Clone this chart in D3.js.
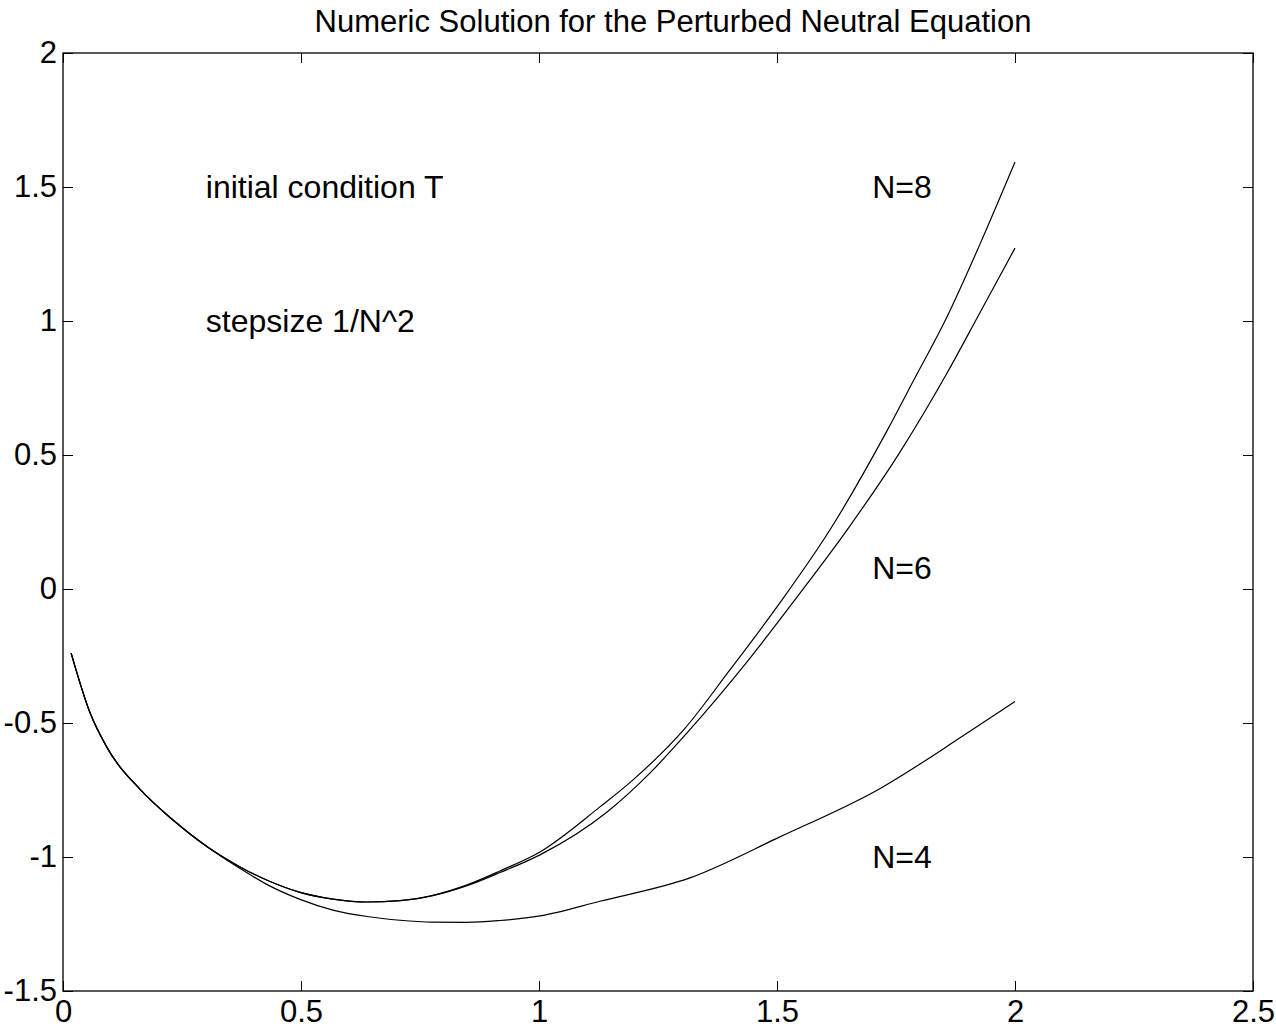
<!DOCTYPE html>
<html>
<head>
<meta charset="utf-8">
<script src="https://cdn.jsdelivr.net/npm/d3@7"></script>
<style>
  html, body { margin: 0; padding: 0; background: #fff; }
  svg { display: block; }
  text { font-family: "Liberation Sans", Arial, sans-serif; fill: #000; }
</style>
</head>
<body>
<script>
// Solution curves t -> u(t) for three step sizes 1/N^2
const xN8 = [0.017, 0.057, 0.092, 0.162, 0.231, 0.303, 0.372, 0.429, 0.498, 0.567, 0.639, 0.708, 0.777, 0.849, 0.918, 1.002, 1.128, 1.197, 1.307, 1.401, 1.506, 1.611, 1.731, 1.786, 1.857, 1.926, 2.0];
const yN8 = [-0.239, -0.463, -0.590, -0.748, -0.862, -0.962, -1.037, -1.087, -1.132, -1.157, -1.168, -1.163, -1.143, -1.104, -1.052, -0.981, -0.813, -0.713, -0.519, -0.302, -0.052, 0.220, 0.590, 0.775, 1.015, 1.285, 1.593];

const xN6 = [0.017, 0.057, 0.092, 0.162, 0.231, 0.303, 0.372, 0.429, 0.498, 0.567, 0.639, 0.708, 0.777, 0.849, 0.918, 1.002, 1.143, 1.233, 1.311, 1.437, 1.542, 1.647, 1.758, 1.857, 1.926, 2.0];
const yN6 = [-0.239, -0.463, -0.590, -0.748, -0.862, -0.962, -1.037, -1.087, -1.132, -1.157, -1.168, -1.163, -1.144, -1.107, -1.058, -0.992, -0.832, -0.687, -0.537, -0.272, -0.030, 0.220, 0.510, 0.805, 1.030, 1.272];

const xN4 = [0.017, 0.057, 0.092, 0.162, 0.231, 0.303, 0.372, 0.429, 0.498, 0.567, 0.639, 0.708, 0.777, 0.849, 0.918, 1.002, 1.128, 1.317, 1.506, 1.716, 1.891, 2.0];
const yN4 = [-0.239, -0.463, -0.590, -0.748, -0.862, -0.962, -1.043, -1.103, -1.158, -1.198, -1.222, -1.236, -1.243, -1.244, -1.237, -1.220, -1.165, -1.078, -0.925, -0.745, -0.548, -0.420];

const xTicks = [0, 0.5, 1, 1.5, 2, 2.5];
const yTicks = [-1.5, -1, -0.5, 0, 0.5, 1, 1.5, 2];
const xTickLabels = ["0", "0.5", "1", "1.5", "2", "2.5"];
const yTickLabels = ["-1.5", "-1", "-0.5", "0", "0.5", "1", "1.5", "2"];

const titleText = "Numeric Solution for the Perturbed Neutral Equation";
const notes = [
  { text: "initial condition T", x: 0.3, y: 1.5 },
  { text: "stepsize 1/N^2", x: 0.3, y: 1.0 },
  { text: "N=8", x: 1.7, y: 1.5 },
  { text: "N=6", x: 1.7, y: 0.08 },
  { text: "N=4", x: 1.7, y: -1.0 }
];

const W = 1276, H = 1036;
const plotLeft = 63, plotRight = 1253, plotTop = 53, plotBottom = 991;

const svg = d3.select("body").append("svg").attr("width", W).attr("height", H);

const x = d3.scaleLinear().domain([0, 2.5]).range([plotLeft, plotRight]);
const y = d3.scaleLinear().domain([-1.5, 2]).range([plotBottom, plotTop]);

const tickLen = 10;
const fs = 31;

// frame
svg.append("rect")
  .attr("x", plotLeft).attr("y", plotTop)
  .attr("width", plotRight - plotLeft).attr("height", plotBottom - plotTop)
  .attr("fill", "none").attr("stroke", "#000").attr("stroke-width", 1.3);

// axes with inward ticks
const xAxisB = d3.axisBottom(x).tickValues(xTicks).tickSizeInner(-tickLen).tickSizeOuter(0)
  .tickPadding(9).tickFormat((d, i) => xTickLabels[i]);
const xAxisT = d3.axisTop(x).tickValues(xTicks).tickSizeInner(-tickLen).tickSizeOuter(0).tickFormat("");
const yAxisL = d3.axisLeft(y).tickValues(yTicks).tickSizeInner(-tickLen).tickSizeOuter(0)
  .tickPadding(6).tickFormat((d, i) => yTickLabels[i]);
const yAxisR = d3.axisRight(y).tickValues(yTicks).tickSizeInner(-tickLen).tickSizeOuter(0).tickFormat("");

function style(g) {
  g.select(".domain").remove();
  g.selectAll(".tick line").attr("stroke", "#000").attr("stroke-width", 1);
  g.selectAll(".tick text").attr("font-size", fs).attr("font-family", "Liberation Sans, Arial, sans-serif").attr("fill", "#000");
}

svg.append("g").attr("transform", `translate(0,${plotBottom})`).call(xAxisB).call(style);
svg.append("g").attr("transform", `translate(0,${plotTop})`).call(xAxisT).call(style);
svg.append("g").attr("transform", `translate(${plotLeft},0)`).call(yAxisL).call(style);
svg.append("g").attr("transform", `translate(${plotRight},0)`).call(yAxisR).call(style);

// curves
const line = d3.line().x(d => x(d[0])).y(d => y(d[1])).curve(d3.curveMonotoneX);
const series = [
  d3.zip(xN8, yN8),
  d3.zip(xN6, yN6),
  d3.zip(xN4, yN4)
];
svg.append("g").selectAll("path").data(series).join("path")
  .attr("d", line)
  .attr("fill", "none")
  .attr("stroke", "#000")
  .attr("stroke-width", 1.2);

// annotations
svg.append("g").selectAll("text").data(notes).join("text")
  .attr("x", d => x(d.x))
  .attr("y", d => y(d.y))
  .attr("dy", "0.35em")
  .attr("font-size", 32)
  .text(d => d.text);

// title
svg.append("text")
  .attr("x", 673).attr("y", 32)
  .attr("text-anchor", "middle")
  .attr("font-size", fs)
  .text(titleText);
</script>
</body>
</html>
